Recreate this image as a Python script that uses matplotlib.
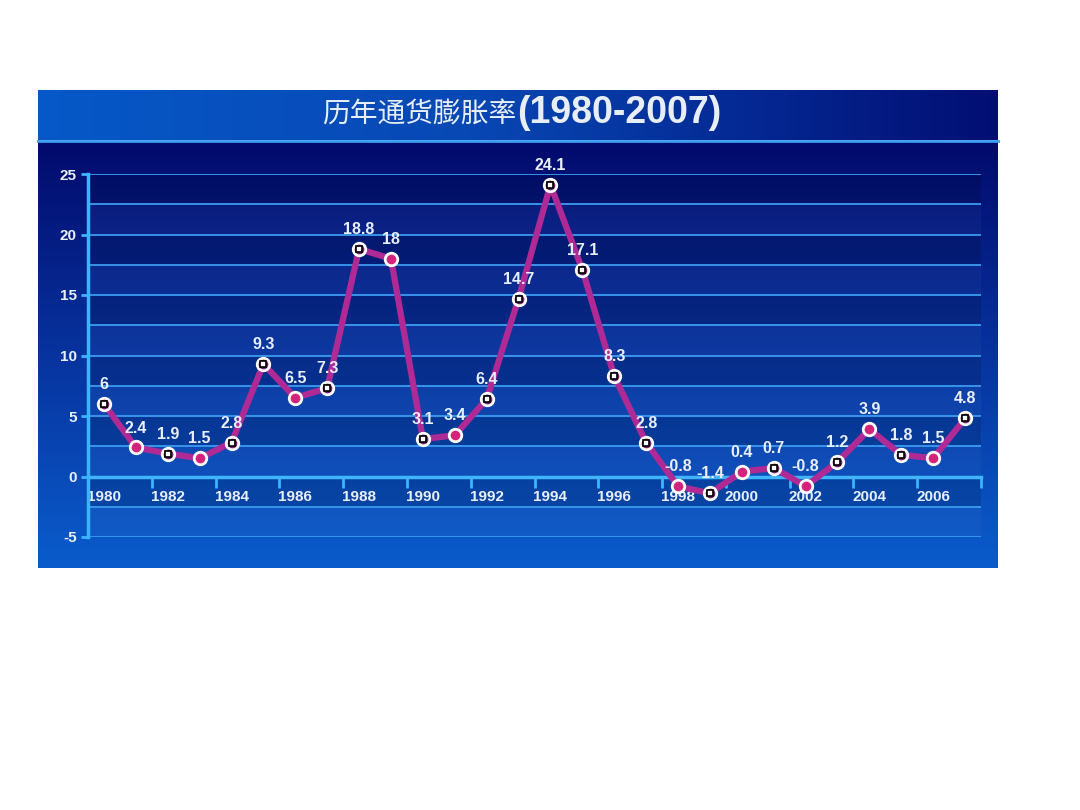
import numpy as np
import matplotlib.pyplot as plt
from matplotlib.colors import LinearSegmentedColormap
from matplotlib.lines import Line2D

years = list(range(1980, 2008))
inflation = [6, 2.4, 1.9, 1.5, 2.8, 9.3, 6.5, 7.3, 18.8, 18, 3.1, 3.4, 6.4, 14.7,
             24.1, 17.1, 8.3, 2.8, -0.8, -1.4, 0.4, 0.7, -0.8, 1.2, 3.9, 1.8, 1.5, 4.8]
label_years = list(range(1980, 2007, 2))
y_ticks = [-5, 0, 5, 10, 15, 20, 25]
title_cn = '历年通货膨胀率'
title_years = '(1980-2007)'

# these points are plain pink dots, the rest get the boxed marker
dot_years = [1981, 1983, 1986, 1989, 1991, 1998, 2000, 2002, 2004, 2006]

plt.rcParams['font.family'] = ['Liberation Sans', 'Noto Sans CJK SC', 'DejaVu Sans']
plt.rcParams['axes.unicode_minus'] = False

W, H = 1080, 810
fig = plt.figure(figsize=(10.8, 8.1), dpi=100)
fig.patch.set_facecolor('white')

def fx(px):
    return px / W

def fy(py):
    return 1 - py / H

# blue panel under the title
bg = fig.add_axes([fx(38), fy(568), fx(998) - fx(38), fy(141) - fy(568)])
grad = np.linspace(0, 1, 256).reshape(-1, 1)
cmap_v = LinearSegmentedColormap.from_list('v', ['#020a6c', '#07339e', '#0a5ccc'])
bg.imshow(grad, aspect='auto', cmap=cmap_v, extent=[0, 1, 0, 1], origin='upper')
bg.set_axis_off()

# title bar
tb = fig.add_axes([fx(38), fy(140), fx(998) - fx(38), fy(90) - fy(140)])
gh = np.linspace(0, 1, 256).reshape(1, -1)
cmap_h = LinearSegmentedColormap.from_list(
    'h', [(0, '#0658c8'), (0.45, '#0848b4'), (0.8, '#04228c'), (1, '#020e72')])
tb.imshow(gh, aspect='auto', cmap=cmap_h, extent=[0, 1, 0, 1])
tb.set_axis_off()
fig.add_artist(Line2D([fx(38), fx(998)], [fy(140.5), fy(140.5)], color='#3a9cf0', lw=2))

fig.text(fx(516), fy(114), title_cn, ha='right', va='center', color='#e8eef8',
         fontsize=20, fontweight='medium', family=['Noto Sans CJK SC'])
fig.text(fx(517), fy(113), title_years, ha='left', va='center', color='#e8eef8',
         fontsize=27, fontweight='bold', family=['Liberation Sans'])

ax = fig.add_axes([fx(88), fy(537), fx(981) - fx(88), fy(174) - fy(537)])
ax.set_facecolor('none')
ax.set_xlim(1979.5, 2007.5)
ax.set_ylim(-5, 25)

# alternating bands + grid lines
for i, lo in enumerate(np.arange(-5, 25, 2.5)):
    if i % 2:
        ax.axhspan(lo, lo + 2.5, color='black', alpha=0.13, lw=0, zorder=0)
    else:
        ax.axhspan(lo, lo + 2.5, color='white', alpha=0.03, lw=0, zorder=0)
for y in np.arange(-5, 25.1, 2.5):
    if y != 0:
        ax.axhline(y, color='#3a9cf0', lw=1.3, zorder=1)

for s in ['top', 'right']:
    ax.spines[s].set_visible(False)
ax.spines['left'].set_color('#3cb4ff')
ax.spines['left'].set_linewidth(2.5)
ax.spines['bottom'].set_position(('data', 0))
ax.spines['bottom'].set_color('#40b4ff')
ax.spines['bottom'].set_linewidth(2.5)

ax.set_yticks(y_ticks)
ax.tick_params(axis='y', direction='out', length=5, width=2, color='#3cb4ff',
               labelcolor='#e8efff', labelsize=11, pad=3)
ax.set_xticks([y + 1.5 for y in label_years])
ax.set_xticks(label_years, minor=True)
ax.set_xticklabels([str(y) for y in label_years], minor=True)
ax.tick_params(axis='x', which='major', direction='out', length=8, width=2,
               color='#3cb4ff', labelbottom=False)
ax.tick_params(axis='x', which='minor', length=0, pad=10, labelcolor='#e8efff',
               labelsize=11)
for lab in ax.get_yticklabels() + ax.get_xticklabels(minor=True):
    lab.set_fontweight('bold')

ax.plot(years, inflation, color='#b02a96', lw=4.5, zorder=3, clip_on=False)
for yr, v in zip(years, inflation):
    if yr in dot_years:
        ax.plot(yr, v, 'o', ms=9, mfc='#d4237a', mec='white', mew=2, zorder=4)
    else:
        ax.plot(yr, v, 'o', ms=9, mfc='#7a1a70', mec='white', mew=2, zorder=4)
        ax.plot(yr, v, 's', ms=4.5, mfc='white', mec='black', mew=1.2, zorder=5)
    ax.annotate(f'{v:g}', (yr, v), xytext=(0, 14), textcoords='offset points',
                ha='center', va='center', color='#e8efff', fontsize=11.5,
                fontweight='bold', zorder=6)

fig.savefig('out.png', dpi=100)
